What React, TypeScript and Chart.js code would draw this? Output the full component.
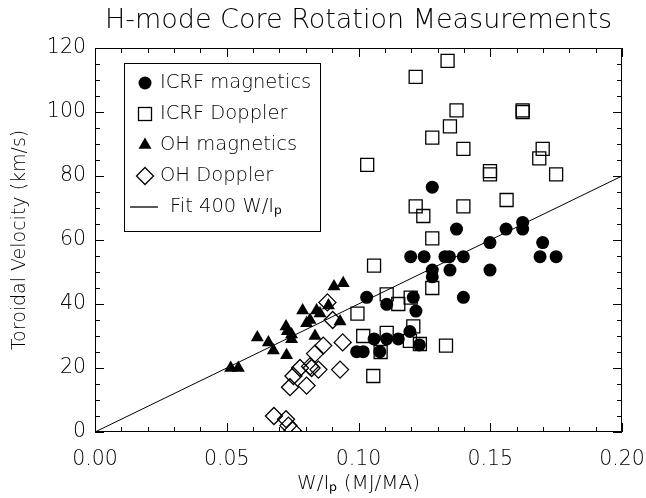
import React, { useEffect, useRef } from 'react';
import { Chart, registerables } from 'chart.js';

Chart.register(...registerables);

const FONT = '"DejaVu Sans", sans-serif';
const WEIGHT = '200';

const titleText = 'H-mode Core Rotation Measurements';
const xTitle = 'W/Iₚ (MJ/MA)';
const yTitle = 'Toroidal Velocity (km/s)';

const xMin = 0;
const xMax = 0.2;
const xStep = 0.05;
const yMin = 0;
const yMax = 120;
const yStep = 20;

const seriesNames = ['ICRF magnetics', 'ICRF Doppler', 'OH magnetics', 'OH Doppler', 'Fit 400 W/Iₚ'];

const icrfMagX = [0.128, 0.1372, 0.156, 0.1623, 0.1623, 0.1499, 0.1699, 0.1198, 0.1249, 0.1328, 0.1345, 0.1398, 0.1689, 0.175, 0.128, 0.1347, 0.1499, 0.128, 0.1398, 0.1031, 0.1107, 0.1208, 0.1218, 0.1195, 0.1059, 0.1107, 0.1151, 0.1231, 0.0993, 0.1018, 0.1081];
const icrfMagY = [76.5, 63.4, 63.4, 65.5, 63.4, 59.2, 59.2, 54.8, 54.8, 54.8, 54.8, 54.8, 54.8, 54.8, 50.6, 50.6, 50.6, 48.5, 42.1, 42.1, 39.9, 42.1, 37.8, 31.4, 29.1, 29.1, 29.1, 27.2, 25.1, 25.1, 25.1];

const icrfDopX = [0.1338, 0.1217, 0.1372, 0.1623, 0.1623, 0.1347, 0.128, 0.1398, 0.1033, 0.1499, 0.1499, 0.1562, 0.1217, 0.1246, 0.1398, 0.1699, 0.1686, 0.175, 0.128, 0.1059, 0.128, 0.1107, 0.1151, 0.1198, 0.0996, 0.1208, 0.1107, 0.1018, 0.1195, 0.1233, 0.1332, 0.1084, 0.1056];
const icrfDopY = [116, 111, 100.5, 100.5, 100, 95.5, 92, 88.5, 83.5, 81.5, 80.5, 72.5, 70.5, 67.5, 70.5, 88.5, 85.5, 80.5, 60.5, 52, 45, 43, 40, 42, 37, 33, 31, 30, 28.5, 27.5, 27, 25, 17.5];

const ohMagX = [0.0515, 0.0544, 0.0616, 0.0658, 0.0677, 0.0725, 0.073, 0.0746, 0.0746, 0.0727, 0.0788, 0.0803, 0.0816, 0.0835, 0.0841, 0.0854, 0.0886, 0.093, 0.0907, 0.0942];
const ohMagY = [20, 20, 29.5, 28, 25.5, 33, 31.5, 30.5, 29, 24, 38, 34, 35, 30, 38, 37, 39.5, 34.5, 45.5, 46.5];

const ohDopX = [0.0882, 0.0902, 0.094, 0.0866, 0.0835, 0.0848, 0.093, 0.0778, 0.0816, 0.0822, 0.0753, 0.074, 0.0803, 0.0679, 0.0725, 0.0734, 0.075];
const ohDopY = [40.5, 35, 28, 27, 24.5, 19.5, 19.5, 20, 20.5, 20, 17.5, 14, 14.5, 5, 4, 2, 0.5];

const fitX = [0, 0.2];
const fitY = [0, 80];

const zip = (xs: number[], ys: number[]) => xs.map((x, i) => ({ x, y: ys[i] }));

type MarkerKind = 'circle' | 'rect' | 'triangle' | 'rectRot' | 'line';
const legendKinds: MarkerKind[] = ['circle', 'rect', 'triangle', 'rectRot', 'line'];

function drawMarker(ctx: CanvasRenderingContext2D, kind: MarkerKind, x: number, y: number) {
  ctx.beginPath();
  if (kind === 'circle') {
    ctx.arc(x, y, 6.5, 0, Math.PI * 2);
    ctx.fill();
  } else if (kind === 'rect') {
    ctx.strokeRect(x - 6.5, y - 6.5, 13, 13);
  } else if (kind === 'triangle') {
    const r = 7.5;
    ctx.moveTo(x, y - r);
    ctx.lineTo(x + r * Math.sin((2 * Math.PI) / 3), y - r * Math.cos((2 * Math.PI) / 3));
    ctx.lineTo(x + r * Math.sin((4 * Math.PI) / 3), y - r * Math.cos((4 * Math.PI) / 3));
    ctx.closePath();
    ctx.fill();
  } else if (kind === 'rectRot') {
    const r = 8.5;
    ctx.moveTo(x, y - r);
    ctx.lineTo(x + r, y);
    ctx.lineTo(x, y + r);
    ctx.lineTo(x - r, y);
    ctx.closePath();
    ctx.stroke();
  } else {
    ctx.moveTo(x - 15, y);
    ctx.lineTo(x + 13, y);
    ctx.stroke();
  }
}

const framePlugin = {
  id: 'idlFrame',
  afterDatasetsDraw(chart: any) {
    const { ctx, chartArea: a, scales } = chart;
    const xs = scales.x;
    const ys = scales.y;
    ctx.save();
    ctx.strokeStyle = '#000';
    ctx.fillStyle = '#000';
    ctx.lineWidth = 1;
    ctx.strokeRect(a.left + 0.5, a.top + 0.5, a.right - a.left - 1, a.bottom - a.top - 1);
    ctx.beginPath();
    const nx = Math.round((xMax - xMin) / 0.01);
    for (let k = 0; k <= nx; k++) {
      const px = Math.round(xs.getPixelForValue(xMin + k * 0.01)) + 0.5;
      const len = k % 5 === 0 ? 9 : 5;
      ctx.moveTo(px, a.bottom);
      ctx.lineTo(px, a.bottom - len);
      ctx.moveTo(px, a.top);
      ctx.lineTo(px, a.top + len);
    }
    const ny = Math.round((yMax - yMin) / 5);
    for (let k = 0; k <= ny; k++) {
      const py = Math.round(ys.getPixelForValue(yMin + k * 5)) + 0.5;
      const len = k % 4 === 0 ? 9 : 5;
      ctx.moveTo(a.left, py);
      ctx.lineTo(a.left + len, py);
      ctx.moveTo(a.right, py);
      ctx.lineTo(a.right - len, py);
    }
    ctx.stroke();

    // title, centred over the plot area
    ctx.font = `${WEIGHT} 27px ${FONT}`;
    ctx.textAlign = 'center';
    ctx.textBaseline = 'middle';
    ctx.fillText(titleText, (a.left + a.right) / 2, a.top - 27);

    // legend box
    const bx = a.left + 29;
    const by = a.top + 15;
    const bw = 196;
    const bh = 168;
    ctx.fillStyle = '#fff';
    ctx.fillRect(bx, by, bw, bh);
    ctx.fillStyle = '#000';
    ctx.lineWidth = 1;
    ctx.strokeRect(bx + 0.5, by + 0.5, bw, bh);
    ctx.font = `${WEIGHT} 19.5px ${FONT}`;
    ctx.textBaseline = 'middle';
    ctx.textAlign = 'left';
    legendKinds.forEach((kind, i) => {
      const ry = by + 20 + i * 31;
      ctx.lineWidth = 1.3;
      drawMarker(ctx, kind, bx + 21, ry);
      const tx = kind === 'line' ? bx + 46 : bx + 36;
      ctx.fillText(seriesNames[i], tx, ry);
    });
    ctx.restore();
  },
};

export default function App() {
  const ref = useRef<HTMLCanvasElement | null>(null);
  useEffect(() => {
    if (!ref.current) return;
    const chart = new Chart(ref.current, {
      type: 'scatter',
      data: {
        datasets: [
          {
            label: seriesNames[0],
            data: zip(icrfMagX, icrfMagY),
            pointStyle: 'circle',
            pointRadius: 6.5,
            backgroundColor: '#000',
            borderColor: '#000',
            borderWidth: 0,
          },
          {
            label: seriesNames[1],
            data: zip(icrfDopX, icrfDopY),
            pointStyle: 'rect',
            pointRadius: 9.2,
            backgroundColor: 'rgba(0,0,0,0)',
            borderColor: '#000',
            borderWidth: 1.3,
          },
          {
            label: seriesNames[2],
            data: zip(ohMagX, ohMagY),
            pointStyle: 'triangle',
            pointRadius: 7.5,
            backgroundColor: '#000',
            borderColor: '#000',
            borderWidth: 0,
          },
          {
            label: seriesNames[3],
            data: zip(ohDopX, ohDopY),
            pointStyle: 'rectRot',
            pointRadius: 8.5,
            backgroundColor: 'rgba(0,0,0,0)',
            borderColor: '#000',
            borderWidth: 1.3,
          },
          {
            type: 'line',
            label: seriesNames[4],
            data: zip(fitX, fitY),
            borderColor: '#000',
            borderWidth: 1,
            pointRadius: 0,
            fill: false,
          } as any,
        ],
      },
      options: {
        animation: false,
        responsive: false,
        layout: { padding: { top: 48, right: 24, bottom: 0, left: 0 } },
        plugins: {
          legend: { display: false },
          tooltip: { enabled: false },
          title: { display: false, text: titleText },
        },
        scales: {
          x: {
            type: 'linear',
            min: xMin,
            max: xMax,
            grid: { display: false, drawTicks: false },
            border: { display: false },
            ticks: {
              stepSize: xStep,
              color: '#000',
              padding: 15,
              maxRotation: 0,
              font: { family: FONT, size: 20.5, weight: WEIGHT as any },
              callback: (v: any) => Number(v).toFixed(2),
            },
            title: {
              display: true,
              text: xTitle,
              color: '#000',
              font: { family: FONT, size: 20, weight: WEIGHT as any },
              padding: { top: 0, bottom: 2 },
            },
            afterFit: (s: any) => {
              s.height = 66;
              s.paddingLeft = 0;
              s.paddingRight = 0;
            },
          },
          y: {
            type: 'linear',
            min: yMin,
            max: yMax,
            grid: { display: false, drawTicks: false },
            border: { display: false },
            ticks: {
              stepSize: yStep,
              color: '#000',
              padding: 9,
              font: { family: FONT, size: 20.5, weight: WEIGHT as any },
            },
            title: {
              display: true,
              text: yTitle,
              color: '#000',
              font: { family: FONT, size: 19, weight: WEIGHT as any },
              padding: { top: 9, bottom: 0 },
            },
            afterFit: (s: any) => {
              s.width = 95;
              s.paddingTop = 0;
              s.paddingBottom = 0;
            },
          },
        },
      },
      plugins: [framePlugin],
    });
    return () => chart.destroy();
  }, []);
  return (
    <div style={{ position: 'fixed', left: 0, top: 0, width: 646, height: 498, background: '#fff' }}>
      <canvas ref={ref} width={646} height={498} style={{ display: 'block' }} />
    </div>
  );
}
